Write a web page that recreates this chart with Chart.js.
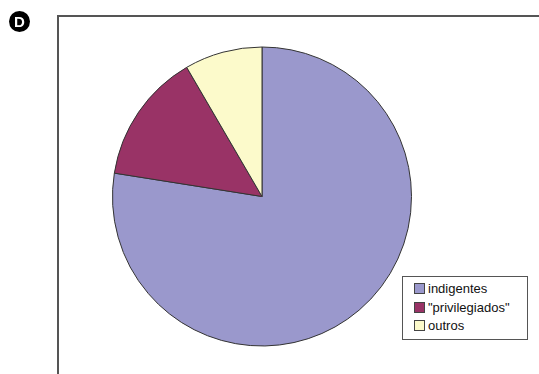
<!DOCTYPE html>
<html>
<head>
<meta charset="utf-8">
<script src="https://cdn.jsdelivr.net/npm/chart.js@4/dist/chart.umd.min.js"></script>
<style>
html,body{margin:0;padding:0;background:#fff;}
#wrap{position:relative;width:539px;height:374px;overflow:hidden;}
#frame{position:absolute;left:57px;top:15px;width:600px;height:500px;border-left:2px solid #555;border-top:2px solid #555;}
#c{position:absolute;left:0;top:0;}
#tag{position:absolute;left:9px;top:11px;width:21px;height:21px;border-radius:50%;background:#000;color:#fff;font:bold 15px "Liberation Sans",Arial,sans-serif;text-align:center;line-height:21px;}
#legend{position:absolute;left:402px;top:276px;width:124px;height:62px;border:1.5px solid #555;background:#fff;font:13px "Liberation Sans",Arial,sans-serif;color:#111;box-sizing:content-box;}
.item{position:absolute;left:11px;height:18px;line-height:18px;white-space:nowrap;}
.sw{display:inline-block;width:9px;height:9px;border:1px solid #444;margin-right:3px;vertical-align:-1px;}
</style>
</head>
<body>
<div id="wrap">
<div id="frame"></div>
<canvas id="c" width="539" height="374"></canvas>
<div id="tag">D</div>
<div id="legend"></div>
</div>
<script>
const categories = ['indigentes', '"privilegiados"', 'outros'];
const values = [77.5, 14.1, 8.4];
const colors = ['#9a98cc', '#993366', '#fcfacb'];

const ctx = document.getElementById('c').getContext('2d');
new Chart(ctx, {
  type: 'pie',
  data: {
    labels: categories,
    datasets: [{
      data: values,
      backgroundColor: colors,
      borderColor: '#333',
      borderWidth: 1
    }]
  },
  options: {
    responsive: false,
    animation: false,
    layout: { padding: { left: 112, right: 127, top: 46, bottom: 27 } },
    plugins: { legend: { display: false }, tooltip: { enabled: false } }
  }
});

const leg = document.getElementById('legend');
categories.forEach((c, i) => {
  const d = document.createElement('div');
  d.className = 'item';
  d.style.top = (3 + i * 18.5) + 'px';
  const s = document.createElement('span');
  s.className = 'sw';
  s.style.background = colors[i];
  d.appendChild(s);
  d.appendChild(document.createTextNode(c));
  leg.appendChild(d);
});
</script>
</body>
</html>
